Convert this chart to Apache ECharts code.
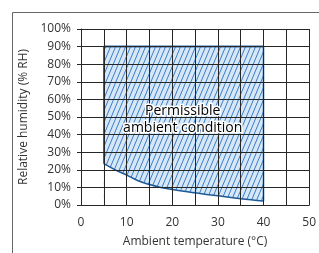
<!DOCTYPE html>
<html>
<head>
<meta charset="utf-8">
<script src="https://cdn.jsdelivr.net/npm/echarts@6/dist/echarts.min.js"></script>
<style>
  html, body { margin: 0; padding: 0; background: #fff; }
  #chart { width: 319px; height: 253px; }
</style>
</head>
<body>
<div id="chart"></div>
<script>
// permissible region: lower humidity limit vs ambient temperature
const tempC = [5, 7.5, 10, 12.5, 15, 17.5, 20, 25, 30, 35, 40];
const minRH = [23.5, 20, 17, 13.8, 11.6, 10, 8.8, 6.9, 5.2, 3.6, 2.3];
const maxRH = 90;

const xTicks = [0, 10, 20, 30, 40, 50];
const yTicks = [0, 10, 20, 30, 40, 50, 60, 70, 80, 90, 100];

// where the region's caption sits, in data units
const captionAt = [22.3, 48.3];

const gridColor = '#262626';
const edgeColor = '#1d5a96';
const textColor = '#333';
const font = '"Open Sans", sans-serif';

// hatch tile: light blue ground with steep diagonal strokes
function makeHatch() {
    let c = document.createElement('canvas');
    c.width = 5;
    c.height = 12;
    let ctx = c.getContext('2d');
    ctx.fillStyle = '#d6e8f8';
    ctx.fillRect(0, 0, 5, 12);
    ctx.strokeStyle = '#3b7cc4';
    ctx.lineWidth = 1;
    for (let k = -1; k <= 1; k++) {
        ctx.beginPath();
        ctx.moveTo(k * 5, 12);
        ctx.lineTo(k * 5 + 5, 0);
        ctx.stroke();
    }
    return c;
}

let chart = echarts.init(document.getElementById('chart'));
let hatch = makeHatch();

let first = tempC[0];
let last = tempC[tempC.length - 1];
let curve = tempC.map(function (t, i) { return [t, minRH[i]]; });

let option = {
    animation: false,
    grid: { left: 81, right: 7, top: 29, bottom: 46 },
    xAxis: {
        type: 'value',
        min: xTicks[0],
        max: xTicks[xTicks.length - 1],
        interval: 5,
        z: 5,
        name: 'Ambient temperature (°C)',
        nameLocation: 'middle',
        nameGap: 31,
        nameTextStyle: { color: textColor, fontSize: 12, fontFamily: font },
        axisLine: { lineStyle: { color: gridColor, width: 1 } },
        axisTick: { show: false },
        axisLabel: {
            color: textColor, fontSize: 12, fontFamily: font, margin: 12,
            formatter: function (v) { return xTicks.indexOf(v) >= 0 ? String(v) : ''; }
        },
        splitLine: { show: true, lineStyle: { color: gridColor, width: 1 } }
    },
    yAxis: {
        type: 'value',
        min: yTicks[0],
        max: yTicks[yTicks.length - 1],
        interval: 10,
        z: 5,
        name: 'Relative humidity (% RH)',
        nameLocation: 'middle',
        nameGap: 39,
        nameTextStyle: { color: textColor, fontSize: 12, fontFamily: font },
        axisLine: { show: true, lineStyle: { color: gridColor, width: 1 } },
        axisTick: { show: true, length: 4, lineStyle: { color: gridColor } },
        axisLabel: {
            color: textColor, fontSize: 12, fontFamily: font, margin: 10,
            formatter: function (v) { return v + '%'; }
        },
        splitLine: { show: true, lineStyle: { color: gridColor, width: 1 } }
    },
    graphic: [
        {
            type: 'rect',
            silent: true,
            shape: { x: 12.5, y: 12.5, width: 500, height: 500 },
            style: { fill: 'none', stroke: '#666', lineWidth: 1 },
            z: 0
        }
    ],
    series: [
        {
            // hatched band up to the upper limit
            type: 'line',
            data: [[first, maxRH], [last, maxRH]],
            showSymbol: false,
            lineStyle: { color: edgeColor, width: 1.5 },
            areaStyle: { color: { image: hatch, repeat: 'repeat' }, opacity: 1 },
            z: 2
        },
        {
            // lower limit curve, blank beneath
            type: 'line',
            data: curve,
            smooth: 0.4,
            showSymbol: false,
            lineStyle: { color: edgeColor, width: 1.5 },
            areaStyle: { color: '#fff', opacity: 1 },
            z: 3
        },
        {
            // side edges of the region, plus its caption
            type: 'line',
            data: [[first, minRH[0]], [first, maxRH], [last, maxRH], [last, minRH[minRH.length - 1]]],
            showSymbol: false,
            lineStyle: { color: edgeColor, width: 1.5 },
            z: 4,
            markPoint: {
                silent: true,
                symbol: 'circle',
                symbolSize: 0,
                z: 10,
                data: [{ coord: captionAt }],
                label: {
                    show: true,
                    position: 'inside',
                    formatter: 'Permissible\nambient condition',
                    color: '#000',
                    fontSize: 14,
                    fontFamily: font,
                    lineHeight: 17,
                    align: 'center',
                    verticalAlign: 'middle',
                    textBorderColor: '#fff',
                    textBorderWidth: 3
                }
            }
        }
    ]
};
chart.setOption(option);
</script>
</body>
</html>
